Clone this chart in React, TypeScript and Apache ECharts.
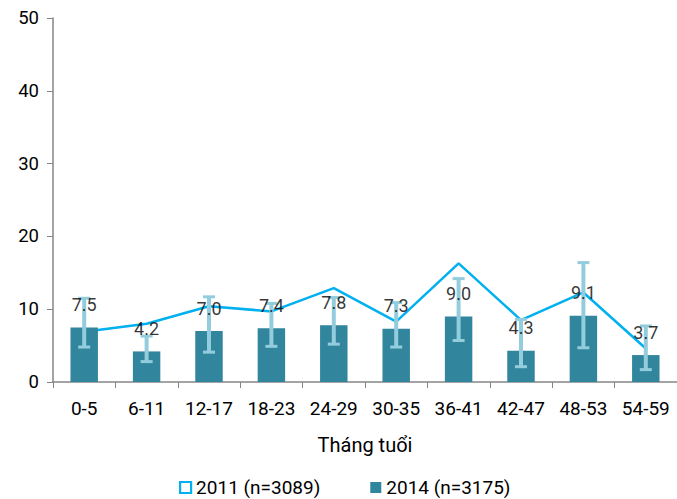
import React, { useEffect, useRef } from "react";
import * as echarts from "echarts";

const categories = ["0-5", "6-11", "12-17", "18-23", "24-29", "30-35", "36-41", "42-47", "48-53", "54-59"];
const series2011 = [6.9, 8.0, 10.4, 9.7, 12.9, 8.3, 16.3, 8.5, 12.3, 4.6];
const series2014 = [7.5, 4.2, 7.0, 7.4, 7.8, 7.3, 9.0, 4.3, 9.1, 3.7];
const err2014Low = [4.8, 2.8, 4.1, 4.9, 5.2, 4.8, 5.7, 2.1, 4.7, 1.7];
const err2014High = [11.5, 6.3, 11.7, 10.8, 11.6, 10.9, 14.2, 8.6, 16.4, 7.7];
const yTicks = [0, 10, 20, 30, 40, 50];
const name2011 = "2011 (n=3089)";
const name2014 = "2014 (n=3175)";

const FONT = "Roboto, 'Liberation Sans', sans-serif";

export default function App() {
  const ref = useRef<HTMLDivElement>(null);
  useEffect(() => {
    if (!ref.current) return;
    const chart = echarts.init(ref.current, undefined, { renderer: "svg" });
    const errData = categories.map((_, i) => [i, err2014Low[i], err2014High[i]]);
    chart.setOption({
      animation: false,
      textStyle: { fontFamily: FONT },
      grid: { left: 53, right: 0, top: 18, bottom: 117, containLabel: false },
      legend: {
        left: 174,
        top: 473,
        itemWidth: 11,
        itemHeight: 11,
        itemGap: 50,
        textStyle: { fontFamily: FONT, fontSize: 19, color: "#000" },
        data: [
          { name: name2011, icon: "rect", itemStyle: { color: "#fff", borderColor: "#00B0F0", borderWidth: 2.2 } },
          { name: name2014, icon: "rect", itemStyle: { color: "#31859C" } },
        ],
      },
      xAxis: {
        type: "category",
        data: categories,
        name: "Tháng tuổi",
        nameLocation: "middle",
        nameGap: 53,
        nameTextStyle: { fontFamily: FONT, fontSize: 20, color: "#000" },
        axisLine: { lineStyle: { color: "#868686", width: 1.5 } },
        axisTick: { show: true, length: 6, lineStyle: { color: "#868686" } },
        axisLabel: { fontFamily: FONT, fontSize: 19, color: "#000", margin: 17 },
      },
      yAxis: {
        type: "value",
        min: 0,
        max: 50,
        interval: 10,
        axisLine: { show: true, lineStyle: { color: "#868686", width: 1.5 } },
        axisTick: { show: true, length: 6, lineStyle: { color: "#868686" } },
        splitLine: { show: false },
        axisLabel: {
          fontFamily: FONT,
          fontSize: 18.5,
          color: "#000",
          margin: 14,
          formatter: (v: number) => (yTicks.includes(v) ? String(v) : ""),
        },
      },
      series: [
        {
          name: name2011,
          type: "line",
          data: series2011,
          symbol: "none",
          z: 1,
          lineStyle: { color: "#00B0F0", width: 2.5 },
          itemStyle: { color: "#00B0F0" },
        },
        {
          name: name2014,
          type: "bar",
          data: series2014,
          barWidth: "44%",
          z: 2,
          itemStyle: { color: "#31859C" },
        },
        {
          type: "custom",
          name: "err",
          data: errData,
          z: 3,
          encode: { x: 0, y: [1, 2] },
          renderItem: (params: any, api: any) => {
            const idx = api.value(0);
            const lo = api.coord([idx, api.value(1)]);
            const hi = api.coord([idx, api.value(2)]);
            const hw = 6;
            const capStyle = { stroke: "#93CDDD", lineWidth: 3 };
            return {
              type: "group",
              children: [
                { type: "line", shape: { x1: lo[0], y1: lo[1], x2: hi[0], y2: hi[1] }, style: { stroke: "#93CDDD", lineWidth: 4 } },
                { type: "line", shape: { x1: lo[0] - hw, y1: lo[1], x2: lo[0] + hw, y2: lo[1] }, style: capStyle },
                { type: "line", shape: { x1: hi[0] - hw, y1: hi[1], x2: hi[0] + hw, y2: hi[1] }, style: capStyle },
              ],
            };
          },
        },
        {
          type: "scatter",
          name: "labels",
          data: series2014,
          z: 5,
          symbolSize: 0,
          itemStyle: { color: "rgba(0,0,0,0)" },
          label: {
            show: true,
            position: "top",
            distance: 14,
            fontFamily: FONT,
            fontSize: 18,
            color: "#000",
            formatter: (p: any) => Number(p.value).toFixed(1),
          },
        },
      ],
    });
    return () => chart.dispose();
  }, []);
  return <div ref={ref} style={{ width: 677, height: 499, position: "absolute", left: 0, top: 0 }} />;
}
